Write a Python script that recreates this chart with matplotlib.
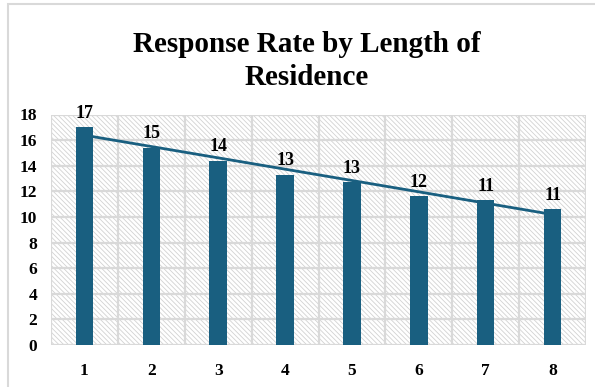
import matplotlib.pyplot as plt
import numpy as np
from matplotlib.patches import Rectangle

years = [1, 2, 3, 4, 5, 6, 7, 8]
response_rate = [17.0, 15.4, 14.4, 13.3, 12.7, 11.6, 11.3, 10.6]
y_ticks = [0, 2, 4, 6, 8, 10, 12, 14, 16, 18]

bar_color = '#195f80'
plt.rcParams['font.family'] = ['Liberation Serif', 'DejaVu Serif']
plt.rcParams['hatch.color'] = '#d2d2d2'
plt.rcParams['hatch.linewidth'] = 0.6

fig = plt.figure(figsize=(5.95, 3.87), dpi=100)
# outer chart frame
fig.patches.append(Rectangle((8/595, -0.05), 1.2, 1.05 - 4/387, transform=fig.transFigure,
                             fill=False, edgecolor='#d9d9d9', lw=1.5, zorder=0))

ax = fig.add_axes([51/595, 42/387, 535/595, 230.5/387])
ax.set_xlim(0.5, 8.5)
ax.set_ylim(0, 18)

# hatched plot area
ax.add_patch(Rectangle((0, 0), 1, 1, transform=ax.transAxes, facecolor='white',
                       hatch='\\\\\\\\\\\\\\', edgecolor='#d2d2d2', lw=0, zorder=0))

for x in np.arange(0.5, 9, 1):
    ax.axvline(x, color='#d9d9d9', lw=1.6, zorder=1)
for y in y_ticks:
    ax.axhline(y, color='#d9d9d9', lw=1.6, zorder=1)

ax.bar(years, response_rate, width=0.26, color=bar_color, zorder=3)

# linear trendline
slope, intercept = np.polyfit(years, response_rate, 1)
xs = np.array([years[0], years[-1]])
ax.plot(xs, slope * xs + intercept, color=bar_color, lw=2, zorder=4)

for x, v in zip(years, response_rate):
    ax.annotate('{:.0f}'.format(v), (x, v), xytext=(0, 4), textcoords='offset points',
                ha='center', va='bottom', fontsize=13, fontweight='bold', zorder=5)

for s in ax.spines.values():
    s.set_visible(False)
ax.set_xticks(years)
ax.set_yticks(y_ticks)
ax.tick_params(length=0, labelsize=12.5)
ax.tick_params(axis='x', pad=13)
ax.tick_params(axis='y', pad=10)
for lbl in ax.get_xticklabels() + ax.get_yticklabels():
    lbl.set_fontweight('bold')

fig.text(307/595, 1 - 61/387, 'Response Rate by Length of\nResidence', ha='center', va='center',
         fontsize=21, fontweight='bold', linespacing=1.3)

fig.savefig('out.png', dpi=100)
